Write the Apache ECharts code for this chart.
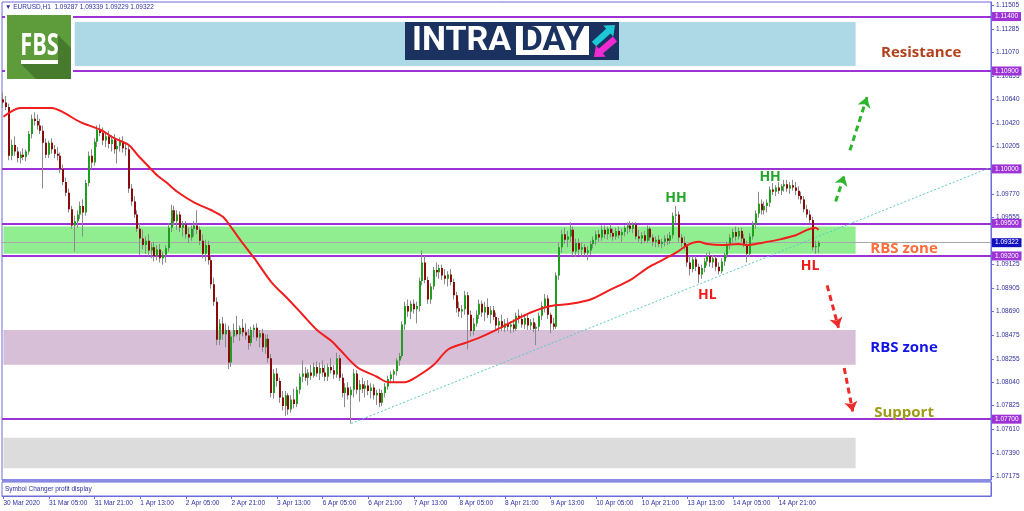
<!DOCTYPE html>
<html><head><meta charset="utf-8">
<script src="https://cdn.jsdelivr.net/npm/echarts@6/dist/echarts.min.js"></script>
<style>html,body{margin:0;padding:0;background:#fff}#chart{width:1024px;height:511px}</style>
</head><body><div id="chart"></div>
<script>
// ---- data ----
const timeLabels = ['30 Mar 2020','31 Mar 05:00','31 Mar 21:00','1 Apr 13:00','2 Apr 05:00','2 Apr 21:00','3 Apr 13:00','6 Apr 05:00','6 Apr 21:00','7 Apr 13:00','8 Apr 05:00','8 Apr 21:00','9 Apr 13:00','10 Apr 05:00','10 Apr 21:00','13 Apr 13:00','14 Apr 05:00','14 Apr 21:00'];
const barsPerLabel = 16;
const slotCount = 347;
const priceTicks = [1.11505,1.11285,1.11070,1.10855,1.10640,1.10420,1.10205,1.09770,1.09555,1.09125,1.08905,1.08690,1.08475,1.08255,1.08040,1.07825,1.07610,1.07390,1.07175];
const priceMin = 1.07141, priceMax = 1.11534;

const opens = [
1.1064,1.1061,1.1057,1.1012,1.1022,1.1016,1.1010,1.1013,1.1011,1.1016,
1.1032,1.1046,1.1044,1.1040,1.1035,1.1024,1.1013,1.1024,1.1018,1.1014,
1.1012,1.1000,1.0988,1.0978,1.0963,1.0948,1.0952,1.0958,1.0966,1.0960,
1.0987,1.1012,1.1006,1.1025,1.1036,1.1033,1.1026,1.1030,1.1023,1.1027,
1.1018,1.1021,1.1025,1.1019,1.1018,1.0982,1.0970,1.0958,1.0945,1.0936,
1.0930,1.0934,1.0925,1.0928,1.0920,1.0926,1.0918,1.0921,1.0927,1.0946,
1.0962,1.0952,1.0958,1.0946,1.0949,1.0940,1.0937,1.0945,1.0948,1.0944,
1.0934,1.0922,1.0930,1.0916,1.0894,1.0878,1.0843,1.0858,1.0848,1.0852,
1.0822,1.0846,1.0852,1.0848,1.0854,1.0850,1.0847,1.0840,1.0852,1.0854,
1.0845,1.0849,1.0836,1.0844,1.0826,1.0794,1.0812,1.0805,1.0790,1.0782,
1.0792,1.0779,1.0788,1.0784,1.0797,1.0809,1.0812,1.0808,1.0813,1.0810,
1.0818,1.0812,1.0817,1.0813,1.0809,1.0818,1.0815,1.0811,1.0826,1.0808,
1.0794,1.0799,1.0792,1.0797,1.0812,1.0797,1.0802,1.0798,1.0801,1.0796,
1.0799,1.0792,1.0794,1.0785,1.0794,1.0800,1.0807,1.0811,1.0814,1.0824,
1.0828,1.0857,1.0874,1.0869,1.0876,1.0871,1.0874,1.0897,1.0914,1.0898,
1.0880,1.0892,1.0907,1.0905,1.0909,1.0902,1.0899,1.0903,1.0896,1.0884,
1.0872,1.0869,1.0871,1.0884,1.0866,1.0851,1.0858,1.0866,1.0876,1.0868,
1.0873,1.0866,1.0870,1.0864,1.0856,1.0860,1.0854,1.0858,1.0855,1.0857,
1.0853,1.0865,1.0862,1.0857,1.0863,1.0856,1.0859,1.0853,1.0855,1.0865,
1.0874,1.0881,1.0866,1.0858,1.0855,1.0902,1.0928,1.0940,1.0935,1.0938,
1.0944,1.0924,1.0932,1.0926,1.0928,1.0923,1.0925,1.0931,1.0935,1.0940,
1.0937,1.0944,1.0940,1.0945,1.0941,1.0938,1.0943,1.0939,1.0942,1.0946,
1.0948,1.0945,1.0949,1.0938,1.0936,1.0939,1.0934,1.0945,1.0937,1.0933,
1.0935,1.0931,1.0933,1.0936,1.0934,1.0939,1.0957,1.0958,1.0937,1.0932,
1.0929,1.0914,1.0908,1.0917,1.0910,1.0903,1.0909,1.0915,1.0920,1.0914,
1.0918,1.0910,1.0906,1.0915,1.0921,1.0930,1.0937,1.0942,1.0938,1.0943,
1.0936,1.0931,1.0922,1.0938,1.0949,1.0959,1.0968,1.0962,1.0966,1.0969,
1.0981,1.0979,1.0983,1.0980,1.0984,1.0986,1.0982,1.0985,1.0983,1.0980,
1.0975,1.0972,1.0963,1.0958,1.0953,1.0928,1.09287];
const highs = [
1.1070,1.1067,1.1060,1.1027,1.1030,1.1020,1.1016,1.1019,1.1018,1.1035,
1.1050,1.1052,1.1050,1.1046,1.1040,1.1028,1.1026,1.1028,1.1022,1.1020,
1.1015,1.1004,1.0992,1.0982,1.0966,1.0957,1.0962,1.0970,1.0972,1.0990,
1.1016,1.1018,1.1028,1.1040,1.1041,1.1038,1.1034,1.1035,1.1031,1.1032,
1.1026,1.1029,1.1030,1.1024,1.1022,1.0986,1.0975,1.0962,1.0950,1.0944,
1.0938,1.0940,1.0932,1.0933,1.0930,1.0931,1.0924,1.0930,1.0950,1.0967,
1.0966,1.0962,1.0961,1.0952,1.0952,1.0946,1.0948,1.0952,1.0962,1.0947,
1.0940,1.0935,1.0934,1.0919,1.0900,1.0882,1.0862,1.0864,1.0858,1.0856,
1.0850,1.0858,1.0865,1.0856,1.0862,1.0858,1.0853,1.0855,1.0857,1.0858,
1.0852,1.0853,1.0848,1.0848,1.0830,1.0816,1.0817,1.0808,1.0796,1.0796,
1.0794,1.0792,1.0798,1.0800,1.0812,1.0824,1.0818,1.0816,1.0820,1.0822,
1.0823,1.0822,1.0824,1.0820,1.0821,1.0826,1.0820,1.0831,1.0829,1.0812,
1.0803,1.0804,1.0800,1.0816,1.0815,1.0806,1.0808,1.0805,1.0806,1.0803,
1.0802,1.0797,1.0798,1.0797,1.0803,1.0810,1.0814,1.0816,1.0826,1.0831,
1.0860,1.0878,1.0880,1.0879,1.0880,1.0878,1.0900,1.0925,1.0920,1.0901,
1.0895,1.0910,1.0914,1.0912,1.0912,1.0908,1.0906,1.0908,1.0899,1.0887,
1.0878,1.0875,1.0888,1.0887,1.0870,1.0863,1.0870,1.0880,1.0879,1.0878,
1.0881,1.0874,1.0874,1.0868,1.0863,1.0866,1.0862,1.0863,1.0860,1.0862,
1.0868,1.0871,1.0867,1.0866,1.0866,1.0862,1.0863,1.0858,1.0868,1.0878,
1.0885,1.0884,1.0868,1.0863,1.0905,1.0932,1.0944,1.0946,1.0943,1.0951,
1.0947,1.0936,1.0936,1.0932,1.0931,1.0929,1.0934,1.0938,1.0943,1.0944,
1.0948,1.0948,1.0947,1.0949,1.0945,1.0946,1.0947,1.0945,1.0948,1.0951,
1.0952,1.0951,1.0951,1.0944,1.0942,1.0943,1.0948,1.0947,1.0940,1.0938,
1.0939,1.0936,1.0939,1.0940,1.0942,1.0960,1.0966,1.0961,1.0940,1.0938,
1.0931,1.0920,1.0920,1.0920,1.0913,1.0912,1.0918,1.0923,1.0924,1.0921,
1.0920,1.0914,1.0918,1.0923,1.0933,1.0940,1.0945,1.0947,1.0946,1.0946,
1.0940,1.0934,1.0941,1.0952,1.0962,1.0979,1.0972,1.0970,1.0972,1.0984,
1.0987,1.0985,1.0988,1.0986,1.0990,1.0990,1.0988,1.0990,1.0988,1.0984,
1.0979,1.0975,1.0967,1.0962,1.0956,1.0934,1.09339];
const lows = [
1.1056,1.1054,1.1008,1.1008,1.1012,1.1006,1.1005,1.1008,1.1007,1.1013,
1.1028,1.1040,1.1036,1.1032,1.0982,1.1010,1.1010,1.1014,1.1010,1.1008,
1.0996,1.0985,1.0975,1.0960,1.0945,1.0924,1.0946,1.0954,1.0938,1.0957,
1.0984,1.1000,1.1003,1.1020,1.1030,1.1022,1.1020,1.1019,1.1016,1.1014,
1.1005,1.1016,1.1015,1.1012,1.0978,1.0966,1.0955,1.0942,1.0921,1.0926,
1.0922,1.0920,1.0918,1.0915,1.0916,1.0914,1.0912,1.0914,1.0924,1.0942,
1.0948,1.0944,1.0942,1.0938,1.0936,1.0932,1.0934,1.0938,1.0940,1.0930,
1.0918,1.0915,1.0912,1.0890,1.0874,1.0838,1.0838,1.0843,1.0836,1.0816,
1.0818,1.0840,1.0846,1.0842,1.0846,1.0843,1.0834,1.0837,1.0845,1.0842,
1.0836,1.0832,1.0830,1.0822,1.0790,1.0789,1.0800,1.0785,1.0778,1.0773,
1.0774,1.0776,1.0780,1.0781,1.0793,1.0804,1.0805,1.0801,1.0806,1.0808,
1.0809,1.0806,1.0809,1.0805,1.0805,1.0812,1.0807,1.0808,1.0805,1.0790,
1.0781,1.0788,1.0766,1.0790,1.0793,1.0786,1.0794,1.0790,1.0792,1.0789,
1.0788,1.0783,1.0781,1.0782,1.0790,1.0797,1.0803,1.0804,1.0810,1.0819,
1.0826,1.0852,1.0864,1.0862,1.0867,1.0858,1.0869,1.0893,1.0895,1.0876,
1.0876,1.0889,1.0901,1.0899,1.0898,1.0894,1.0892,1.0893,1.0880,1.0868,
1.0864,1.0863,1.0866,1.0834,1.0846,1.0847,1.0855,1.0862,1.0864,1.0860,
1.0863,1.0858,1.0861,1.0852,1.0849,1.0851,1.0850,1.0851,1.0849,1.0850,
1.0851,1.0858,1.0854,1.0853,1.0852,1.0852,1.0850,1.0838,1.0851,1.0861,
1.0868,1.0862,1.0849,1.0852,1.0853,1.0898,1.0923,1.0931,1.0928,1.0933,
1.0920,1.0919,1.0921,1.0919,1.0920,1.0916,1.0921,1.0927,1.0930,1.0933,
1.0934,1.0936,1.0935,1.0937,1.0934,1.0935,1.0936,1.0933,1.0938,1.0940,
1.0942,1.0941,1.0935,1.0933,1.0931,1.0932,1.0932,1.0934,1.0929,1.0928,
1.0928,1.0927,1.0929,1.0930,1.0931,1.0936,1.0950,1.0933,1.0928,1.0926,
1.0910,1.0902,1.0905,1.0906,1.0895,1.0899,1.0905,1.0911,1.0910,1.0909,
1.0906,1.0903,1.0904,1.0911,1.0918,1.0926,1.0933,1.0934,1.0935,1.0933,
1.0928,1.0914,1.0919,1.0935,1.0945,1.0955,1.0958,1.0958,1.0960,1.0965,
1.0976,1.0975,1.0977,1.0976,1.0979,1.0979,1.0977,1.0980,1.0976,1.0972,
1.0968,1.0960,1.0955,1.0950,1.0925,1.0922,1.09229];
const closes = [
1.1061,1.1057,1.1012,1.1022,1.1016,1.1010,1.1013,1.1011,1.1016,1.1032,
1.1046,1.1044,1.1040,1.1035,1.1024,1.1013,1.1024,1.1018,1.1014,1.1012,
1.1000,1.0988,1.0978,1.0963,1.0948,1.0952,1.0958,1.0966,1.0960,1.0987,
1.1012,1.1006,1.1025,1.1036,1.1033,1.1026,1.1030,1.1023,1.1027,1.1018,
1.1021,1.1025,1.1019,1.1018,1.0982,1.0970,1.0958,1.0945,1.0936,1.0930,
1.0934,1.0925,1.0928,1.0920,1.0926,1.0918,1.0921,1.0927,1.0946,1.0962,
1.0952,1.0958,1.0946,1.0949,1.0940,1.0937,1.0945,1.0948,1.0944,1.0934,
1.0922,1.0930,1.0916,1.0894,1.0878,1.0843,1.0858,1.0848,1.0852,1.0822,
1.0846,1.0852,1.0848,1.0854,1.0850,1.0847,1.0840,1.0852,1.0854,1.0845,
1.0849,1.0836,1.0844,1.0826,1.0794,1.0812,1.0805,1.0790,1.0782,1.0792,
1.0779,1.0788,1.0784,1.0797,1.0809,1.0812,1.0808,1.0813,1.0810,1.0818,
1.0812,1.0817,1.0813,1.0809,1.0818,1.0815,1.0811,1.0826,1.0808,1.0794,
1.0799,1.0792,1.0797,1.0812,1.0797,1.0802,1.0798,1.0801,1.0796,1.0799,
1.0792,1.0794,1.0785,1.0794,1.0800,1.0807,1.0811,1.0814,1.0824,1.0828,
1.0857,1.0874,1.0869,1.0876,1.0871,1.0874,1.0897,1.0914,1.0898,1.0880,
1.0892,1.0907,1.0905,1.0909,1.0902,1.0899,1.0903,1.0896,1.0884,1.0872,
1.0869,1.0871,1.0884,1.0866,1.0851,1.0858,1.0866,1.0876,1.0868,1.0873,
1.0866,1.0870,1.0864,1.0856,1.0860,1.0854,1.0858,1.0855,1.0857,1.0853,
1.0865,1.0862,1.0857,1.0863,1.0856,1.0859,1.0853,1.0855,1.0865,1.0874,
1.0881,1.0866,1.0858,1.0855,1.0902,1.0928,1.0940,1.0935,1.0938,1.0944,
1.0924,1.0932,1.0926,1.0928,1.0923,1.0925,1.0931,1.0935,1.0940,1.0937,
1.0944,1.0940,1.0945,1.0941,1.0938,1.0943,1.0939,1.0942,1.0946,1.0948,
1.0945,1.0949,1.0938,1.0936,1.0939,1.0934,1.0945,1.0937,1.0933,1.0935,
1.0931,1.0933,1.0936,1.0934,1.0939,1.0957,1.0958,1.0937,1.0932,1.0929,
1.0914,1.0908,1.0917,1.0910,1.0903,1.0909,1.0915,1.0920,1.0914,1.0918,
1.0910,1.0906,1.0915,1.0921,1.0930,1.0937,1.0942,1.0938,1.0943,1.0936,
1.0931,1.0922,1.0938,1.0949,1.0959,1.0968,1.0962,1.0966,1.0969,1.0981,
1.0979,1.0983,1.0980,1.0984,1.0986,1.0982,1.0985,1.0983,1.0980,1.0975,
1.0972,1.0963,1.0958,1.0953,1.0928,1.0929,1.09322];

// moving average (red line), read as [bar, price]
const maPoints = [[0,1.1048],[6,1.1056],[17,1.1056],[21,1.1052],[27,1.1043],[34,1.1036],[39,1.1028],[44,1.1022],[47,1.1013],[51,1.1002],[54,1.0994],[57,1.0988],[61,1.0979],[67,1.0969],[73,1.0962],[77,1.0956],[80,1.0946],[83,1.0935],[88,1.0918],[94,1.0896],[100,1.0880],[105,1.0866],[110,1.0852],[115,1.0842],[118,1.0834],[124,1.0818],[131,1.0809],[135,1.0804],[141,1.0804],[145,1.0809],[151,1.0820],[156,1.0834],[162,1.0840],[167,1.0845],[172,1.0851],[178,1.0859],[185,1.0868],[192,1.0874],[199,1.0876],[206,1.0880],[213,1.0889],[220,1.0898],[226,1.0909],[231,1.0916],[236,1.0923],[240,1.0930],[244,1.0933],[247,1.0931],[252,1.0930],[258,1.0931],[261,1.0930],[266,1.0932],[272,1.0935],[278,1.0939],[282,1.0944],[285,1.0946],[286,1.0944]];

const levelLines = [1.114, 1.109, 1.100, 1.095, 1.092, 1.077];
const lastPrice = 1.09322;
// zones: [fromBar, toBar, lowPrice, highPrice]
const resistanceZone = [25, 299, 1.10945, 1.1135];
const upperRbsZone = [0, 299, 1.0922, 1.0947];
const lowerRbsZone = [0, 299, 1.0820, 1.0852];
const supportZone = [0, 299, 1.0725, 1.0753];
const trendLine = [[122, 1.0766], [346, 1.1001]];
const upArrows = [[[297, 1.1017], [303, 1.1066]], [[292, 1.0970], [295, 1.0994]]];
const downArrows = [[[289, 1.0893], [293, 1.0854]], [[295, 1.0817], [298, 1.0777]]];
const hhNotes = [[236, 1.0973], [269, 1.0993]];
const hlNotes = [[247, 1.0884], [283, 1.0911]];
const sideNotes = [['Resistance', 322, 1.1107], ['RBS zone', 316, 1.0927], ['RBS zone', 316, 1.0836], ['Support', 316, 1.0776]];
const headerText = '\u25BC EURUSD,H1  1.09287 1.09339 1.09229 1.09322';

// ---- build ----
const slots = Array.from({length: slotCount}, (_, i) => i);
const candleData = closes.map((c, i) => [i, opens[i], c, lows[i], highs[i]]);
const AX = '#6c6cd8', TXT = '#2f2fa0', PURPLE = '#9d33d6';

function renderCandle(params, api) {
  const i = api.value(0);
  const o = api.value(1), c = api.value(2), l = api.value(3), h = api.value(4);
  const po = api.coord([i, o]), pc = api.coord([i, c]);
  const pl = api.coord([i, l]), ph = api.coord([i, h]);
  const x = Math.round(po[0]) - 1;
  const top = Math.min(po[1], pc[1]), bot = Math.max(po[1], pc[1]);
  return {type: 'group', children: [
    {type: 'line', shape: {x1: x + 0.5, y1: ph[1], x2: x + 0.5, y2: pl[1]}, style: {stroke: '#8a8a8a', lineWidth: 1}},
    {type: 'rect', shape: {x: x, y: top, width: 2, height: Math.max(1, bot - top)}, style: {fill: c >= o ? '#1f9e1f' : '#8b0a0a'}}
  ]};
}
function zoneItem(z, color) {
  return [{xAxis: z[0], yAxis: z[3], itemStyle: {color: color}}, {xAxis: z[1], yAxis: z[2]}];
}
function arrowItem(a, color) {
  return [{coord: a[0], lineStyle: {color: color}}, {coord: a[1]}];
}
function blockArrow(tx, ty, hx, hy, sw, hw, hl) {
  const dx = hx - tx, dy = hy - ty, len = Math.hypot(dx, dy), ux = dx / len, uy = dy / len, px = -uy, py = ux;
  const bx = hx - ux * hl, by = hy - uy * hl;
  return [[tx + px * sw, ty + py * sw], [bx + px * sw, by + py * sw], [bx + px * hw, by + py * hw], [hx, hy],
          [bx - px * hw, by - py * hw], [bx - px * sw, by - py * sw], [tx - px * sw, ty - py * sw]];
}
const noteFont = {fontFamily: 'Open Sans', fontWeight: 'bold'};
const sideColors = ['#b3401b', '#ff6d3a', '#1414e6', '#9c9c14'];
const notePoints = []
  .concat(hhNotes.map(p => ({coord: p, name: 'HH', label: Object.assign({color: '#22a62a', fontSize: 14}, noteFont)})))
  .concat(hlNotes.map(p => ({coord: p, name: 'HL', label: Object.assign({color: '#f01818', fontSize: 14}, noteFont)})))
  .concat(sideNotes.map((n, k) => ({coord: [n[1], n[2]], name: n[0], label: Object.assign({color: sideColors[k], fontSize: 15}, noteFont)})));

const levelItems = levelLines.map(v => ({yAxis: v}));
const option = {
  animation: false,
  backgroundColor: '#ffffff',
  grid: [
    {left: 2, right: 33, top: 2, height: 478, show: true, borderColor: AX, borderWidth: 1, backgroundColor: '#fff'},
    {left: 2, right: 33, top: 482, height: 14, show: true, borderColor: AX, borderWidth: 1}
  ],
  xAxis: [
    {type: 'category', gridIndex: 0, data: slots, boundaryGap: true, axisLine: {show: false}, axisTick: {show: false}, axisLabel: {show: false}, splitLine: {show: false}},
    {type: 'category', gridIndex: 1, data: slots, boundaryGap: true,
     axisLine: {show: true, lineStyle: {color: AX}},
     axisTick: {show: true, alignWithLabel: true, length: 3, lineStyle: {color: AX},
       interval: (idx) => idx % barsPerLabel === 0 && idx / barsPerLabel < timeLabels.length},
     axisLabel: {show: true, align: 'left', margin: 4, fontSize: 6.5, fontFamily: 'Liberation Sans', color: TXT,
       interval: (idx) => idx % barsPerLabel === 0 && idx / barsPerLabel < timeLabels.length,
       formatter: (v, idx) => timeLabels[idx / barsPerLabel] || ''},
     splitLine: {show: false}}
  ],
  yAxis: [
    {type: 'value', gridIndex: 0, position: 'right', min: priceMin, max: priceMax, splitLine: {show: false},
     axisLine: {show: true, lineStyle: {color: AX}},
     axisTick: {show: true, length: 3, customValues: priceTicks, lineStyle: {color: AX}},
     axisLabel: {show: true, customValues: priceTicks, margin: 5, fontSize: 6.5, fontFamily: 'Liberation Sans', color: TXT, formatter: v => v.toFixed(5)}},
    {type: 'value', gridIndex: 1, position: 'right', min: 0, max: 1, splitLine: {show: false},
     axisLine: {show: true, lineStyle: {color: AX}}, axisTick: {show: false}, axisLabel: {show: false}}
  ],
  series: [
    {type: 'line', name: 'zones', xAxisIndex: 0, yAxisIndex: 0, data: [], z: 1, silent: true,
     markArea: {silent: true, data: [
       zoneItem(resistanceZone, '#add8e6'), zoneItem(upperRbsZone, '#90ee90'),
       zoneItem(lowerRbsZone, '#d8bfd8'), zoneItem(supportZone, '#dcdcdc')]}},
    {type: 'line', name: 'levels', xAxisIndex: 0, yAxisIndex: 0, data: [], z: 2, silent: true,
     markLine: {silent: true, precision: 5, symbol: ['none', 'none'],
       lineStyle: {color: PURPLE, width: 2, type: 'solid'},
       label: {show: true, position: 'end', distance: 1, formatter: p => Number(p.value).toFixed(5), color: '#fff',
         backgroundColor: PURPLE, fontSize: 6.5, fontFamily: 'Liberation Sans', padding: [1, 3, 1, 3]},
       data: levelItems.concat([{yAxis: lastPrice, lineStyle: {color: '#a8a8a8', width: 1},
         label: {backgroundColor: '#1010c0'}}])}},
    {type: 'custom', name: 'EURUSD', xAxisIndex: 0, yAxisIndex: 0, renderItem: renderCandle, data: candleData,
     encode: {x: 0, y: [1, 2, 3, 4]}, z: 5, clip: true},
    {type: 'line', name: 'MA', xAxisIndex: 0, yAxisIndex: 0, data: maPoints, smooth: 0.3, showSymbol: false,
     symbol: 'none', lineStyle: {color: '#f21d1d', width: 2}, z: 6},
    {type: 'line', name: 'notes', xAxisIndex: 0, yAxisIndex: 0, data: [], z: 8, silent: true,
     markLine: {silent: true, precision: 5, symbol: ['none', 'none'], label: {show: false},
       lineStyle: {color: '#5cc8c8', width: 1, type: [2, 2]},
       data: [[{coord: trendLine[0]}, {coord: trendLine[1]}]]}},
    {type: 'line', name: 'arrows', xAxisIndex: 0, yAxisIndex: 0, data: [], z: 9, silent: true,
     markLine: {silent: true, precision: 5, symbol: ['none', 'arrow'], symbolSize: 10, label: {show: false},
       lineStyle: {width: 3, type: [6, 4]},
       data: upArrows.map(a => arrowItem(a, '#2db52d')).concat(downArrows.map(a => arrowItem(a, '#ee2a2a')))},
     markPoint: {silent: true, symbol: 'circle', symbolSize: 1, itemStyle: {color: 'rgba(0,0,0,0)'},
       label: {show: true, position: 'inside', formatter: p => p.name},
       data: notePoints}}
  ],
  graphic: [
    {type: 'rect', z: 100, shape: {x: 5, y: 12, width: 68, height: 70}, style: {fill: '#ffffff'}},
    {type: 'rect', z: 101, shape: {x: 7, y: 15, width: 64, height: 64}, style: {fill: '#5e9b3a'}},
    {type: 'polygon', z: 102, shape: {points: [[58, 35], [71, 48], [71, 79], [36, 79], [21, 64], [58, 64]]}, style: {fill: '#467a2c'}},
    {type: 'text', z: 103, x: 39.5, y: 46, scaleX: 0.7, style: {text: 'FBS', x: 0, y: 0, align: 'center', verticalAlign: 'middle', fill: '#ffffff', fontSize: 31, fontWeight: 'bold', fontFamily: 'Open Sans'}},
    {type: 'rect', z: 103, shape: {x: 21, y: 60, width: 37, height: 4}, style: {fill: '#ffffff'}},
    {type: 'rect', z: 100, shape: {x: 405, y: 22, width: 214, height: 38}, style: {fill: '#1b3260'}},
    {type: 'text', z: 101, x: 412, y: 41, style: {text: 'INTRA', x: 0, y: 0, align: 'left', verticalAlign: 'middle', fill: '#ffffff', fontSize: 34, fontWeight: 'bold', fontFamily: 'Roboto'}},
    {type: 'rect', z: 101, shape: {x: 516, y: 26, width: 73, height: 29}, style: {fill: '#ffffff'}},
    {type: 'text', z: 102, x: 552.5, y: 41, style: {text: 'DAY', x: 0, y: 0, align: 'center', verticalAlign: 'middle', fill: '#1b3260', fontSize: 34, fontWeight: 'bold', fontFamily: 'Roboto'}},
    {type: 'polygon', z: 101, shape: {points: blockArrow(594, 44, 615, 25, 3.2, 7.5, 9)}, style: {fill: '#1cc7d6'}},
    {type: 'polygon', z: 101, shape: {points: blockArrow(615, 39, 594, 57, 3.2, 7.5, 9)}, style: {fill: '#ee2bd0'}},
    {type: 'text', z: 100, x: 5, y: 7, style: {text: headerText, x: 0, y: 0, align: 'left', verticalAlign: 'middle', fill: TXT, fontSize: 6.5, fontFamily: 'Liberation Sans'}},
    {type: 'rect', z: 100, shape: {x: 2, y: 479, width: 989, height: 3}, style: {fill: '#8a8ae2'}},
    {type: 'text', z: 100, x: 5, y: 489, style: {text: 'Symbol Changer profit display', x: 0, y: 0, align: 'left', verticalAlign: 'middle', fill: TXT, fontSize: 6.5, fontFamily: 'Liberation Sans'}}
  ]
};
const chart = echarts.init(document.getElementById('chart'), null, {renderer: 'canvas'});
chart.setOption(option);
</script>
</body></html>
